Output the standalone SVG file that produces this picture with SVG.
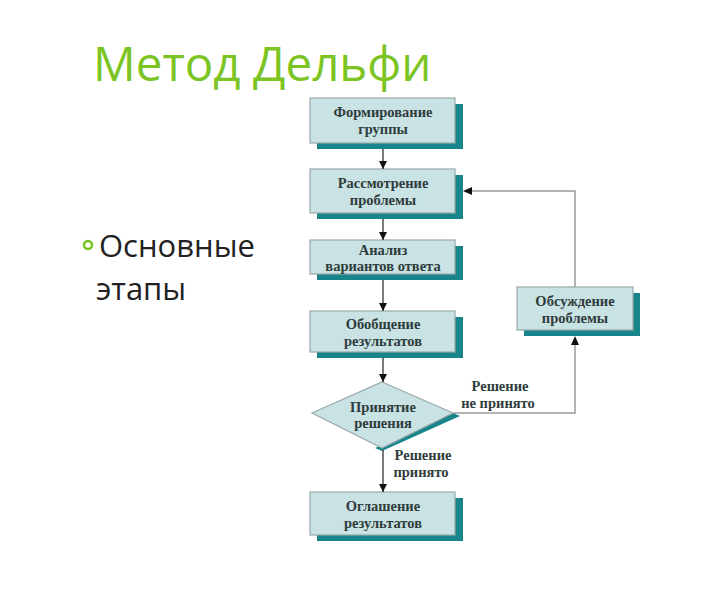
<svg xmlns="http://www.w3.org/2000/svg" width="720" height="596" viewBox="0 0 720 596">
<defs>
<style>
.box{fill:#c9e2e3;stroke:#9aa8aa;stroke-width:1.2}
.sh{fill:#17858a}
.t{font-family:"Liberation Serif",serif;font-size:14.5px;font-weight:bold;fill:#2f3c3c;text-anchor:middle}
.lbl{font-family:"Liberation Serif",serif;font-size:14.5px;font-weight:bold;fill:#2f3c3c;text-anchor:middle}
.ln{fill:none;stroke:#222;stroke-width:1.2}
.lg{fill:none;stroke:#9a9a9a;stroke-width:1.5}
</style>
<marker id="ah" viewBox="0 0 10 10" refX="10" refY="5" markerWidth="8" markerHeight="8" markerUnits="userSpaceOnUse" orient="auto"><path d="M0,0 L10,5 L0,10 z" fill="#111"/></marker>
</defs>
<rect width="720" height="596" fill="#fff"/>
<text x="93" y="81" font-family="Open Sans, sans-serif" font-size="47.5" fill="#7cc423">Метод Дельфи</text>
<circle cx="88" cy="245" r="4" fill="none" stroke="#78c41e" stroke-width="2.5"/>
<text x="99" y="257" font-family="Open Sans, sans-serif" font-size="31" fill="#222">Основные</text>
<text x="96" y="300" font-family="Open Sans, sans-serif" font-size="31" fill="#222">этапы</text>
<g id="n1"><rect class="sh" x="317" y="104" width="146" height="45"/><rect class="box" x="310" y="98" width="145" height="45"/><text class="t" x="383" y="117">Формирование</text><text class="t" x="383" y="134">группы</text></g>
<g id="n2"><rect class="sh" x="317" y="175" width="146" height="44"/><rect class="box" x="310" y="169" width="145" height="44"/><text class="t" x="383" y="188">Рассмотрение</text><text class="t" x="383" y="205">проблемы</text></g>
<g id="n3"><rect class="sh" x="317" y="246" width="146" height="34"/><rect class="box" x="310" y="240" width="145" height="34"/><text class="t" x="383" y="255">Анализ</text><text class="t" x="383" y="271">вариантов ответа</text></g>
<g id="n4"><rect class="sh" x="317" y="317" width="146" height="41"/><rect class="box" x="310" y="311" width="145" height="41"/><text class="t" x="383" y="329">Обобщение</text><text class="t" x="383" y="346">результатов</text></g>
<g id="n5"><path class="sh" d="M453,413 L460,416 L382,451 L375,448 z"/><path class="box" d="M382,382 L453,413 L382,448 L312,413 z"/><text class="t" x="383" y="412">Принятие</text><text class="t" x="383" y="428">решения</text></g>
<g id="n6"><rect class="sh" x="317" y="498" width="146" height="43"/><rect class="box" x="310" y="492" width="145" height="43"/><text class="t" x="383" y="511">Оглашение</text><text class="t" x="383" y="528">результатов</text></g>
<g id="n7"><rect class="sh" x="524" y="293" width="116" height="43"/><rect class="box" x="517" y="287" width="116" height="43"/><text class="t" x="575" y="306">Обсуждение</text><text class="t" x="575" y="323">проблемы</text></g>
<g id="connectors">
<line class="ln" x1="383" y1="149" x2="383" y2="169" marker-end="url(#ah)"/>
<line class="ln" x1="383" y1="219" x2="383" y2="240" marker-end="url(#ah)"/>
<line class="ln" x1="383" y1="280" x2="383" y2="311" marker-end="url(#ah)"/>
<line class="ln" x1="383" y1="358" x2="383" y2="382" marker-end="url(#ah)"/>
<line class="ln" x1="383" y1="450" x2="383" y2="492" marker-end="url(#ah)"/>
<polyline class="lg" points="454,413 575,413 575,344"/>
<polyline class="lg" points="575,287 575,191 471,191"/>
<path d="M571,345 L575,336 L579,345 z" fill="#111"/>
<path d="M472,187 L463,191 L472,195 z" fill="#111"/>
<text class="lbl" x="500" y="391">Решение</text>
<text class="lbl" x="498" y="408">не принято</text>
<text class="lbl" x="423" y="460">Решение</text>
<text class="lbl" x="421" y="477">принято</text>
</g>
</svg>
